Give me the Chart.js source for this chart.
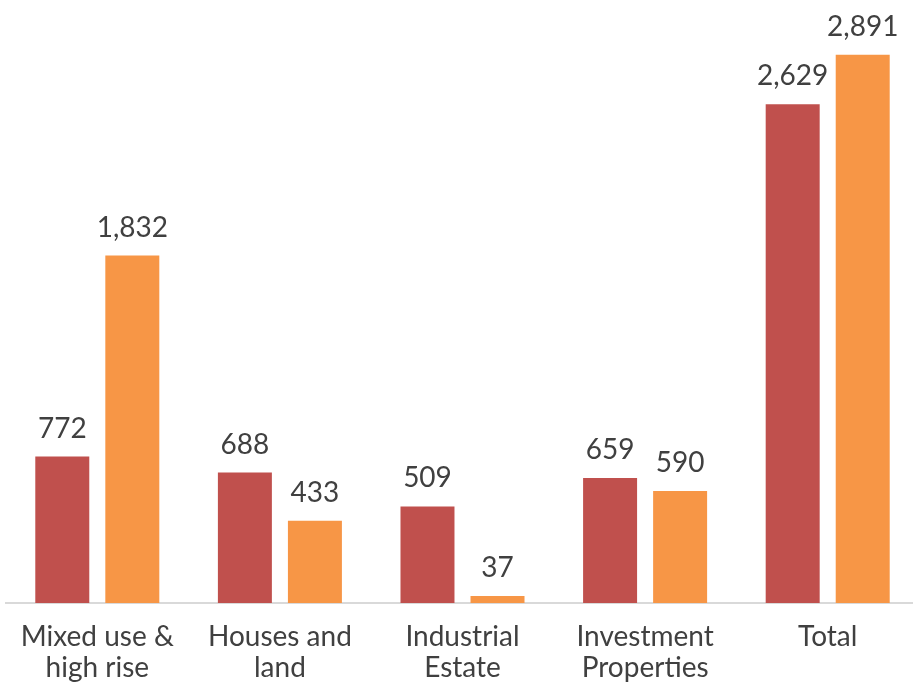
<!DOCTYPE html>
<html>
<head>
<meta charset="utf-8">
<script src="https://cdn.jsdelivr.net/npm/chart.js@4/dist/chart.umd.min.js"></script>
<style>
  html, body { margin: 0; padding: 0; background: #fff; overflow: hidden; }
  #wrap { width: 919px; height: 686px; }
</style>
</head>
<body>
<div id="wrap"><canvas id="graphic" width="919" height="686"></canvas></div>
<script>
const categories = [
  ["Mixed use &", "high rise"],
  ["Houses and", "land"],
  ["Industrial", "Estate"],
  ["Investment", "Properties"],
  "Total"
];
const seriesA = [772, 688, 509, 659, 2629];
const seriesB = [1832, 433, 37, 590, 2891];

const textColor = "#404040";
const fontFamily = "Lato, 'Open Sans', sans-serif";

const valueLabels = {
  id: "valueLabels",
  afterDatasetsDraw(chart) {
    const ctx = chart.ctx;
    ctx.save();
    ctx.font = "28px " + fontFamily;
    ctx.fillStyle = textColor;
    ctx.textAlign = "center";
    ctx.textBaseline = "alphabetic";
    chart.data.datasets.forEach((ds, i) => {
      chart.getDatasetMeta(i).data.forEach((bar, j) => {
        ctx.fillText(ds.data[j].toLocaleString("en-US"), bar.x, bar.y - 19);
      });
    });
    ctx.restore();
  }
};

new Chart(document.getElementById("graphic").getContext("2d"), {
  type: "bar",
  data: {
    labels: categories,
    datasets: [
      { label: "A", data: seriesA, backgroundColor: "#C0504D",
        categoryPercentage: 0.767, barPercentage: 0.771 },
      { label: "B", data: seriesB, backgroundColor: "#F79646",
        categoryPercentage: 0.767, barPercentage: 0.771 }
    ]
  },
  options: {
    responsive: false,
    animation: false,
    layout: { padding: { top: 34, left: 6, right: 0, bottom: 0 } },
    plugins: {
      legend: { display: false },
      tooltip: { enabled: false }
    },
    scales: {
      x: {
        grid: { display: false, drawTicks: false },
        border: { display: true, color: "#D9D9D9", width: 2 },
        ticks: {
          color: textColor,
          font: { family: fontFamily, size: 28, lineHeight: 1.1 },
          padding: 19,
          maxRotation: 0,
          autoSkip: false
        },
        afterFit(scale) { scale.height = 83; }
      },
      y: {
        display: false,
        min: 0,
        max: 3000
      }
    }
  },
  plugins: [valueLabels]
});
</script>
</body>
</html>
